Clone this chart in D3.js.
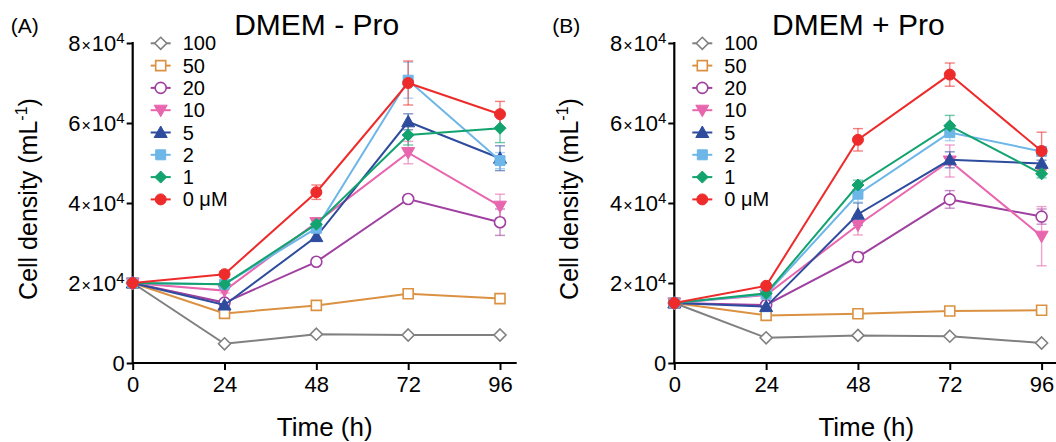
<!DOCTYPE html>
<html>
<head>
<meta charset="utf-8">
<script src="https://cdn.jsdelivr.net/npm/d3@7"></script>
<style>
body { margin: 0; background: #fff; }
text { font-family: "Liberation Sans", Arial, sans-serif; fill: #000; }
</style>
</head>
<body>
<svg id="chart" width="1056" height="442"></svg>
<script>
const times = [0, 24, 48, 72, 96];
const concLabels = ["100", "50", "20", "10", "5", "2", "1", "0 \u03bcM"];
const colors = ["#808080", "#DB9142", "#A040A0", "#E866AE", "#2E4C9E", "#6DB6E8", "#12A36F", "#EE2B2B"];
const shapes = ["diamond", "square", "circle", "triDown", "triUp", "square", "diamond", "circle"];
const filled = [false, false, false, true, true, true, true, true];
const yTicks = [0, 20000, 40000, 60000, 80000];

// DMEM - Pro
const meanA = [
    [20000, 4800, 7200, 7000, 7000],
    [20000, 12400, 14400, 17300, 16100],
    [20000, 15100, 25300, 41000, 35200],
    [20000, 18100, 35100, 52600, 39200],
    [20000, 14500, 31600, 60300, 51200],
    [20000, 19700, 33700, 70700, 50600],
    [20000, 19700, 34700, 57000, 58700],
    [20000, 22200, 42700, 70000, 62200]
];
const errA = [
    [0, 300, 400, 300, 300],
    [0, 400, 500, 600, 500],
    [0, 500, 500, 900, 3300],
    [0, 600, 1000, 2800, 3000],
    [0, 500, 1000, 2000, 3100],
    [0, 500, 1000, 4500, 2000],
    [0, 500, 900, 2500, 3600],
    [0, 800, 1800, 5500, 3200]
];

// DMEM + Pro
const meanB = [
    [15000, 6300, 6900, 6700, 5000],
    [15000, 11900, 12300, 13000, 13200],
    [15000, 14500, 26500, 40900, 36600],
    [15000, 17000, 34500, 50500, 31700],
    [15000, 14100, 37200, 50800, 49900],
    [15000, 17200, 42200, 57600, 52900],
    [15000, 17400, 44500, 59300, 47300],
    [15000, 19300, 55800, 72100, 53000]
];
const errB = [
    [0, 300, 300, 300, 300],
    [0, 300, 300, 300, 300],
    [0, 500, 1200, 2200, 1900],
    [0, 600, 2500, 4000, 7400],
    [0, 600, 2800, 2000, 800],
    [0, 600, 2000, 2000, 1000],
    [0, 600, 1200, 2600, 1000],
    [0, 500, 2800, 2900, 4700]
];

const svg = d3.select("#chart");

function markerPath(shape) {
    if (shape == "diamond") return "M0,-6L6,0L0,6L-6,0Z";
    if (shape == "square") return "M-5,-5H5V5H-5Z";
    if (shape == "triUp") return "M0,-6.5L6.5,5L-6.5,5Z";
    if (shape == "triDown") return "M0,6.5L6.5,-5L-6.5,-5Z";
    return "M5.5,0A5.5,5.5 0 1,1 -5.5,0A5.5,5.5 0 1,1 5.5,0Z";
}

function addMarker(g, i, cx, cy) {
    g.append("path")
        .attr("d", markerPath(shapes[i]))
        .attr("transform", "translate(" + cx + "," + cy + ")")
        .attr("fill", filled[i] ? colors[i] : "#fff")
        .attr("stroke", colors[i])
        .attr("stroke-width", filled[i] ? 1 : 1.6);
}

function drawPanel(ox, tag, title, means, errs) {
    var x = d3.scaleLinear().domain([0, 96]).range([ox, ox + 367.3]);
    var y = d3.scaleLinear().domain([0, 80000]).range([363, 43]);
    var g = svg.append("g");

    // axes
    var xAxis = g.append("g")
        .attr("transform", "translate(0,363)")
        .call(d3.axisBottom(x).tickValues(times).tickSize(7).tickPadding(6));
    xAxis.select(".domain").remove();
    xAxis.selectAll("line").attr("stroke", "#000").attr("stroke-width", 2);
    xAxis.selectAll("text").attr("font-size", 22).attr("font-family", null);
    g.append("line")
        .attr("x1", ox).attr("x2", ox + 384)
        .attr("y1", 363).attr("y2", 363)
        .attr("stroke", "#000").attr("stroke-width", 2.2);

    var yAxis = g.append("g")
        .attr("transform", "translate(" + ox + ",0)")
        .call(d3.axisLeft(y).tickValues(yTicks).tickSize(6).tickFormat(""));
    yAxis.select(".domain").remove();
    yAxis.selectAll("line").attr("stroke", "#000").attr("stroke-width", 2);
    g.append("line")
        .attr("x1", ox).attr("x2", ox)
        .attr("y1", y(80000) - 1).attr("y2", 364)
        .attr("stroke", "#000").attr("stroke-width", 2.2);

    yTicks.forEach(function (v) {
        var t = g.append("text")
            .attr("x", ox - 8)
            .attr("y", y(v) + 7.5)
            .attr("text-anchor", "end")
            .attr("font-size", 22);
        if (v == 0) {
            t.text("0");
            return;
        }
        t.append("tspan").text(v / 10000);
        t.append("tspan").attr("font-size", 16).attr("dx", 1).text("\u00d7");
        t.append("tspan").attr("dx", 1).text("10");
        t.append("tspan").attr("font-size", 15).attr("dy", -8).text("4");
    });

    // labels
    g.append("text")
        .attr("x", ox - 122).attr("y", 33)
        .attr("font-size", 21)
        .text(tag);
    g.append("text")
        .attr("x", ox + 184).attr("y", 35)
        .attr("text-anchor", "middle")
        .attr("font-size", 30)
        .text(title);
    g.append("text")
        .attr("x", ox + 192).attr("y", 436)
        .attr("text-anchor", "middle")
        .attr("font-size", 26)
        .text("Time (h)");
    var yl = g.append("text")
        .attr("transform", "translate(" + (ox - 96) + ",199) rotate(-90)")
        .attr("text-anchor", "middle")
        .attr("font-size", 25);
    yl.append("tspan").text("Cell density (mL");
    yl.append("tspan").attr("font-size", 16).attr("dy", -10).text("-1");
    yl.append("tspan").attr("dy", 10).text(")");

    // error bars
    means.forEach(function (row, i) {
        row.forEach(function (m, j) {
            var e = errs[i][j];
            if (!e) return;
            var eg = g.append("g")
                .attr("stroke", colors[i])
                .attr("stroke-opacity", 0.6)
                .attr("stroke-width", 1.4);
            eg.append("line").attr("x1", x(times[j])).attr("x2", x(times[j]))
                .attr("y1", y(m - e)).attr("y2", y(m + e));
            [m - e, m + e].forEach(function (v) {
                eg.append("line").attr("x1", x(times[j]) - 5).attr("x2", x(times[j]) + 5)
                    .attr("y1", y(v)).attr("y2", y(v));
            });
        });
    });

    // series
    var line = d3.line()
        .x(function (d, j) { return x(times[j]); })
        .y(function (d) { return y(d); });
    means.forEach(function (row, i) {
        g.append("path")
            .attr("d", line(row))
            .attr("fill", "none")
            .attr("stroke", colors[i])
            .attr("stroke-width", 2);
        row.forEach(function (m, j) {
            addMarker(g, i, x(times[j]), y(m));
        });
    });

    // legend
    concLabels.forEach(function (lab, i) {
        var ly = 43.3 + i * 22.3;
        g.append("line")
            .attr("x1", ox + 18).attr("x2", ox + 38)
            .attr("y1", ly).attr("y2", ly)
            .attr("stroke", colors[i]).attr("stroke-width", 2);
        addMarker(g, i, ox + 28, ly);
        g.append("text")
            .attr("x", ox + 50).attr("y", ly + 7)
            .attr("font-size", 20)
            .text(lab);
    });
}

drawPanel(132.7, "(A)", "DMEM - Pro", meanA, errA);
drawPanel(674.3, "(B)", "DMEM + Pro", meanB, errB);
</script>
</body>
</html>
